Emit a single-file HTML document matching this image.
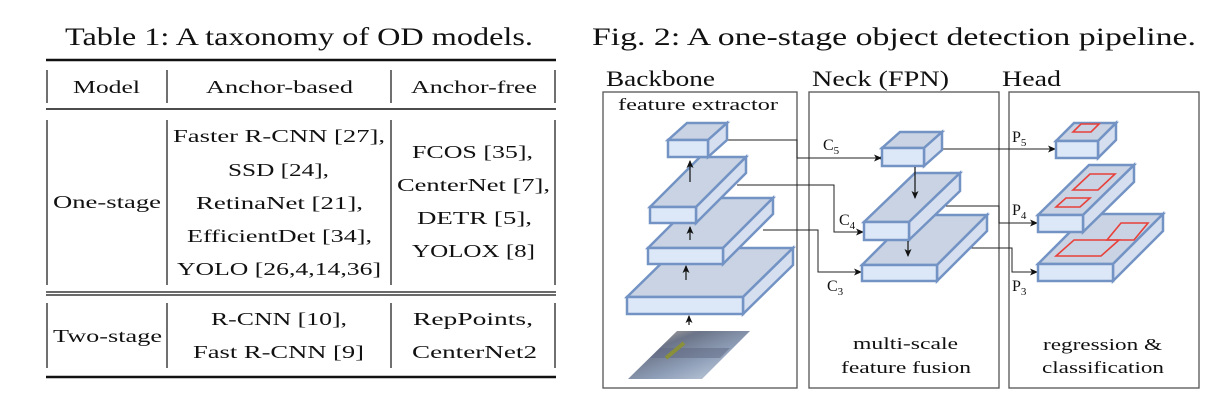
<!DOCTYPE html>
<html><head><meta charset="utf-8"><style>
html,body{margin:0;padding:0;background:#fff;}
svg{display:block;}
svg text{font-family:"Liberation Serif","DejaVu Serif",serif !important;fill:#111;}
</style></head><body>
<svg width="1228" height="412" viewBox="0 0 1228 412" xmlns="http://www.w3.org/2000/svg" font-family="Liberation Serif, DejaVu Serif, serif">
<defs>
<marker id="ah" markerWidth="8" markerHeight="8" refX="7" refY="4" orient="auto" markerUnits="userSpaceOnUse">
<path d="M0,0.5 L8,4 L0,7.5 L2,4 z" fill="#111"/></marker>
<linearGradient id="img" x1="0" y1="0" x2="1" y2="1">
<stop offset="0" stop-color="#d9c9b0"/><stop offset="0.3" stop-color="#6b7488"/><stop offset="0.6" stop-color="#8f9fb8"/><stop offset="1" stop-color="#d0dae8"/></linearGradient>
</defs>
<!-- Table -->
<text x="65" y="45" font-size="25" textLength="468" lengthAdjust="spacingAndGlyphs">Table 1: A taxonomy of OD models.</text>
<line x1="46" y1="60" x2="556" y2="60" stroke="#111" stroke-width="2.5"/>
<line x1="46" y1="109" x2="556" y2="109" stroke="#111" stroke-width="1.5"/>
<line x1="46" y1="292" x2="556" y2="292" stroke="#111" stroke-width="1.2"/>
<line x1="46" y1="295" x2="556" y2="295" stroke="#111" stroke-width="1.2"/>
<line x1="46" y1="377" x2="556" y2="377" stroke="#111" stroke-width="2.5"/>
<g stroke="#111" stroke-width="1.2">
<line x1="47" y1="70" x2="47" y2="103"/><line x1="167" y1="70" x2="167" y2="103"/><line x1="391" y1="70" x2="391" y2="103"/><line x1="555" y1="70" x2="555" y2="103"/>
<line x1="47" y1="120" x2="47" y2="285"/><line x1="167" y1="120" x2="167" y2="285"/><line x1="391" y1="120" x2="391" y2="285"/><line x1="555" y1="120" x2="555" y2="285"/>
<line x1="47" y1="303" x2="47" y2="368"/><line x1="167" y1="303" x2="167" y2="368"/><line x1="391" y1="303" x2="391" y2="368"/><line x1="555" y1="303" x2="555" y2="368"/>
</g>
<g font-size="18">
<text x="73" y="93" textLength="67" lengthAdjust="spacingAndGlyphs">Model</text>
<text x="206" y="93" textLength="147" lengthAdjust="spacingAndGlyphs">Anchor-based</text>
<text x="411" y="93" textLength="126" lengthAdjust="spacingAndGlyphs">Anchor-free</text>
<text x="173" y="142" textLength="212" lengthAdjust="spacingAndGlyphs">Faster R-CNN [27],</text>
<text x="228" y="176" textLength="101" lengthAdjust="spacingAndGlyphs">SSD [24],</text>
<text x="196" y="209" textLength="167" lengthAdjust="spacingAndGlyphs">RetinaNet [21],</text>
<text x="187" y="242" textLength="185" lengthAdjust="spacingAndGlyphs">EfficientDet [34],</text>
<text x="177" y="275" textLength="204" lengthAdjust="spacingAndGlyphs">YOLO [26,4,14,36]</text>
<text x="412" y="158" textLength="121" lengthAdjust="spacingAndGlyphs">FCOS [35],</text>
<text x="397" y="191" textLength="153" lengthAdjust="spacingAndGlyphs">CenterNet [7],</text>
<text x="417" y="224" textLength="115" lengthAdjust="spacingAndGlyphs">DETR [5],</text>
<text x="412" y="257" textLength="123" lengthAdjust="spacingAndGlyphs">YOLOX [8]</text>
<text x="53" y="208" textLength="108" lengthAdjust="spacingAndGlyphs">One-stage</text>
<text x="53" y="342" textLength="109" lengthAdjust="spacingAndGlyphs">Two-stage</text>
<text x="211" y="325" textLength="136" lengthAdjust="spacingAndGlyphs">R-CNN [10],</text>
<text x="193" y="358" textLength="171" lengthAdjust="spacingAndGlyphs">Fast R-CNN [9]</text>
<text x="413" y="325" textLength="120" lengthAdjust="spacingAndGlyphs">RepPoints,</text>
<text x="412" y="358" textLength="125" lengthAdjust="spacingAndGlyphs">CenterNet2</text>
</g>
<!-- Figure -->
<text x="592" y="45" font-size="25" textLength="604" lengthAdjust="spacingAndGlyphs">Fig. 2: A one-stage object detection pipeline.</text>
<g font-size="22">
<text x="606" y="86" textLength="109" lengthAdjust="spacingAndGlyphs">Backbone</text>
<text x="812" y="86" textLength="137" lengthAdjust="spacingAndGlyphs">Neck (FPN)</text>
<text x="1002" y="86" textLength="59" lengthAdjust="spacingAndGlyphs">Head</text>
</g>
<g fill="none" stroke="#555" stroke-width="1.3">
<rect x="603" y="92" width="194" height="296"/>
<rect x="809" y="92" width="190" height="296"/>
<rect x="1009" y="92" width="190" height="296"/>
</g>
<g font-size="17">
<text x="618" y="110" textLength="160" lengthAdjust="spacingAndGlyphs">feature extractor</text>
<text x="853" y="349" textLength="105" lengthAdjust="spacingAndGlyphs">multi-scale</text>
<text x="841" y="373" textLength="130" lengthAdjust="spacingAndGlyphs">feature fusion</text>
<text x="1043" y="350" textLength="119" lengthAdjust="spacingAndGlyphs">regression &amp;</text>
<text x="1042" y="373" textLength="122" lengthAdjust="spacingAndGlyphs">classification</text>
</g>
<!-- image -->
<polygon points="677,331 750,331 702,379 628,379" fill="url(#img)"/>
<polygon points="660,348 730,348 720,358 650,358" fill="#5d6680" opacity="0.5"/>
<line x1="666" y1="358" x2="684" y2="343" stroke="#8a8f3a" stroke-width="4"/>
<!-- connectors -->
<g fill="none" stroke="#222" stroke-width="1">
<polyline points="727,140 797,140 797,158 881,158" marker-end="url(#ah)"/>
<polyline points="737,185 834,185 834,232 863,232" marker-end="url(#ah)"/>
<polyline points="763,230 818,230 818,272 861,272" marker-end="url(#ah)"/>
<polyline points="942,149 1055,149" marker-end="url(#ah)"/>
<polyline points="946,206 999,206 999,223 1037,223" marker-end="url(#ah)"/>
<polyline points="967,248 1012,248 1012,272 1037,272" marker-end="url(#ah)"/>
</g>
<circle cx="882" cy="158" r="2" fill="#111"/>
<g stroke="#7393c4" stroke-width="2.5" stroke-linejoin="miter">
<polygon points="627,297 677,248 793,248 743,297" fill="#c9d3e3"/><polygon points="743,297 793,248 793,265 743,314" fill="#d5dff0"/><rect x="627" y="297" width="116" height="17" fill="#dce8f8"/>
<polygon points="648,248 698,198 773,198 723,248" fill="#c9d3e3"/><polygon points="723,248 773,198 773,214 723,264" fill="#d5dff0"/><rect x="648" y="248" width="75" height="16" fill="#dce8f8"/>
<polygon points="650,207 700,157 746,157 696,207" fill="#c9d3e3"/><polygon points="696,207 746,157 746,173 696,223" fill="#d5dff0"/><rect x="650" y="207" width="46" height="16" fill="#dce8f8"/>
<polygon points="668,140 687,123 727,123 708,140" fill="#c9d3e3"/><polygon points="708,140 727,123 727,140 708,157" fill="#d5dff0"/><rect x="668" y="140" width="40" height="17" fill="#dce8f8"/>
<polygon points="862,265 912,215 987,215 937,265" fill="#c9d3e3"/><polygon points="937,265 987,215 987,231 937,281" fill="#d5dff0"/><rect x="862" y="265" width="75" height="16" fill="#dce8f8"/>
<polygon points="864,222 915,173 960,173 909,222" fill="#c9d3e3"/><polygon points="909,222 960,173 960,191 909,240" fill="#d5dff0"/><rect x="864" y="222" width="45" height="18" fill="#dce8f8"/>
<polygon points="882,148 900,132 942,132 924,148" fill="#c9d3e3"/><polygon points="924,148 942,132 942,150 924,166" fill="#d5dff0"/><rect x="882" y="148" width="42" height="18" fill="#dce8f8"/>
<polygon points="1038,264 1088,214 1163,214 1113,264" fill="#c9d3e3"/><polygon points="1113,264 1163,214 1163,231 1113,281" fill="#d5dff0"/><rect x="1038" y="264" width="75" height="17" fill="#dce8f8"/>
<polygon points="1038,215 1089,165 1134,165 1083,215" fill="#c9d3e3"/><polygon points="1083,215 1134,165 1134,182 1083,232" fill="#d5dff0"/><rect x="1038" y="215" width="45" height="17" fill="#dce8f8"/>
<polygon points="1056,141 1074,123 1116,123 1098,141" fill="#c9d3e3"/><polygon points="1098,141 1116,123 1116,140 1098,158" fill="#d5dff0"/><rect x="1056" y="141" width="42" height="17" fill="#dce8f8"/>
</g>
<g fill="none" stroke="#e8403a" stroke-width="1.6">
<polygon points="1073,132 1091,132 1099,124 1081,124"/>
<polygon points="1073,190 1098,190 1115,174 1090,174"/>
<polygon points="1056,207 1080,207 1090,198 1066,198"/>
<polygon points="1056,256 1101,256 1119,240 1074,240"/>
<polygon points="1107,240 1134,240 1148,223 1121,223"/>
</g>
<g stroke="#111" stroke-width="1.2" fill="none">
<line x1="690" y1="182" x2="690" y2="161" marker-end="url(#ah)"/>
<line x1="690" y1="240" x2="690" y2="227" marker-end="url(#ah)"/>
<line x1="686" y1="280" x2="686" y2="266" marker-end="url(#ah)"/>
<line x1="689" y1="325" x2="689" y2="316" marker-end="url(#ah)"/>
<line x1="915" y1="167" x2="915" y2="198" marker-end="url(#ah)"/>
<line x1="908" y1="241" x2="908" y2="256" marker-end="url(#ah)"/>
</g>
<g font-size="16">
<text x="823" y="150">C<tspan font-size="11" dy="4">5</tspan></text>
<text x="839" y="225">C<tspan font-size="11" dy="4">4</tspan></text>
<text x="827" y="291">C<tspan font-size="11" dy="4">3</tspan></text>
<text x="1012" y="142">P<tspan font-size="11" dy="4">5</tspan></text>
<text x="1012" y="215">P<tspan font-size="11" dy="4">4</tspan></text>
<text x="1012" y="291">P<tspan font-size="11" dy="4">3</tspan></text>
</g>
</svg>
</body></html>
